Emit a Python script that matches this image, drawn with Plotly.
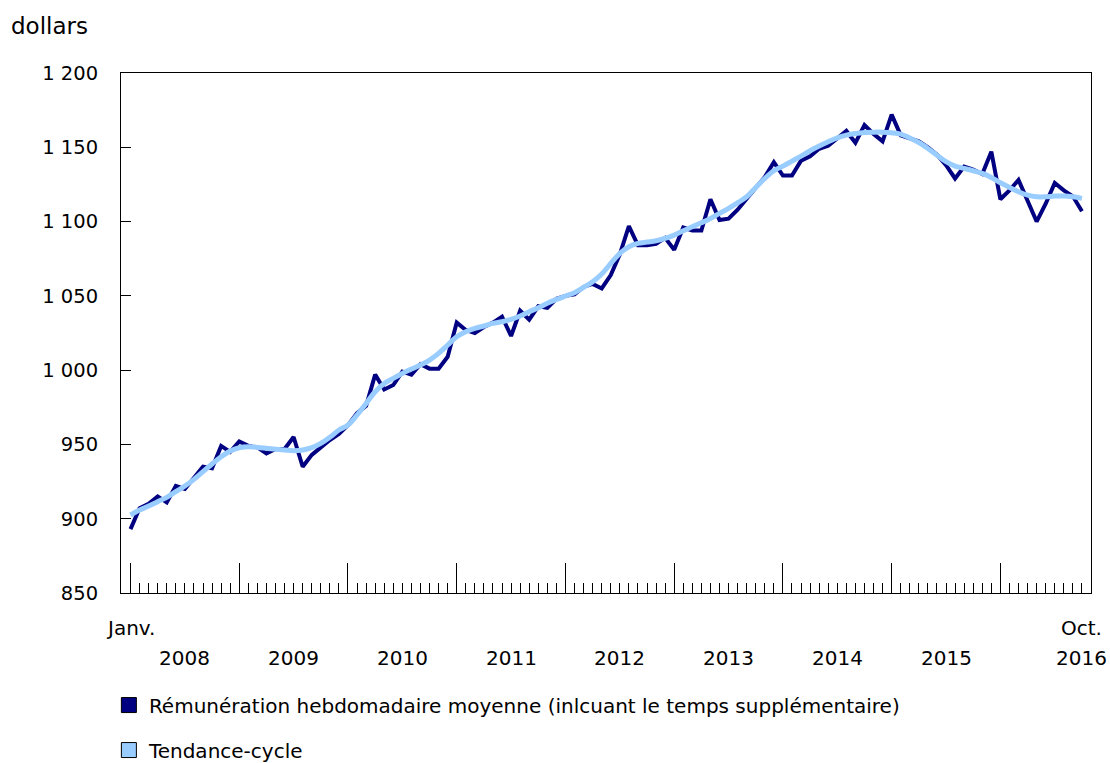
import plotly.graph_objects as go

# Monthly index 0 = Jan 2008 ... 105 = Oct 2016
months = list(range(106))

remuneration = [
    893, 907, 910, 915, 911, 922, 920, 927, 935, 934, 949, 945,
    952, 949, 948, 944, 947, 947, 955, 935, 943, 948, 953, 957,
    963, 971, 976, 997, 987, 990, 999, 997, 1004, 1001, 1001, 1009,
    1032, 1027, 1025, 1029, 1032, 1036, 1023, 1040, 1034, 1043, 1042, 1048,
    1050, 1051, 1056, 1058, 1055, 1064, 1078, 1097, 1084, 1084, 1085, 1089,
    1081, 1096, 1094, 1094, 1115, 1101, 1102, 1108, 1115, 1122, 1130, 1140,
    1131, 1131, 1141, 1144, 1149, 1151, 1156, 1161, 1153, 1165, 1159, 1154,
    1172, 1158, 1156, 1154, 1150, 1145, 1138, 1129, 1137, 1135, 1132, 1147,
    1115, 1121, 1128, 1114, 1100, 1112, 1126, 1121, 1117, 1107,
]

tendance = [
    902.5, 905.9, 908.5, 911.5, 914.4, 918.2, 922.0, 926.5, 931.7, 936.8, 941.7, 945.6,
    947.8, 948.5, 948.0, 947.4, 946.7, 946.2, 945.8, 946.2, 947.8, 950.7, 954.8, 959.7,
    963.0, 969.8, 977.6, 985.5, 991.0, 994.5, 997.8, 1000.7, 1003.4, 1006.8, 1011.3, 1016.9,
    1022.5, 1025.9, 1028.1, 1029.7, 1031.5, 1032.6, 1034.2, 1036.4, 1039.3, 1042.0, 1045.0, 1047.6,
    1049.9, 1052.1, 1055.7, 1059.5, 1064.7, 1071.8, 1078.6, 1083.1, 1085.3, 1086.2, 1087.1, 1088.7,
    1090.9, 1093.8, 1096.5, 1099.2, 1102.1, 1105.5, 1108.9, 1112.7, 1116.7, 1123.0, 1129.0, 1134.2,
    1137.3, 1140.7, 1144.0, 1147.7, 1150.8, 1153.7, 1156.4, 1158.2, 1159.3, 1160.0, 1160.2, 1160.2,
    1159.8, 1158.9, 1156.3, 1153.2, 1149.2, 1144.7, 1140.3, 1137.3, 1135.8, 1134.2, 1132.4, 1129.7,
    1126.1, 1123.0, 1120.1, 1117.8, 1116.7, 1116.7, 1117.2, 1117.2, 1116.7, 1115.6,
]

year_labels = ["2008", "2009", "2010", "2011", "2012", "2013", "2014", "2015"]
year_label_pos = [6, 18, 30, 42, 54, 66, 78, 90]
january_ticks = [0, 12, 24, 36, 48, 60, 72, 84, 96]

y_ticks = [850, 900, 950, 1000, 1050, 1100, 1150, 1200]
y_ticktext = ["850", "900", "950", "1 000", "1 050", "1 100", "1 150", "1 200"]

series_names = [
    "Rémunération hebdomadaire moyenne (inlcuant le temps supplémentaire)",
    "Tendance-cycle",
]
dark = "#000080"
light = "#99CCFF"
FONT = "DejaVu Sans"
FS = 20

fig = go.Figure()
fig.add_trace(go.Scatter(x=months, y=remuneration, mode="lines",
                         line=dict(color=dark, width=4), showlegend=False))
fig.add_trace(go.Scatter(x=months, y=tendance, mode="lines",
                         line=dict(color=light, width=5, shape="spline"), showlegend=False))
# legend entries (square swatches)
for name, col, grp in [(series_names[0], dark, "a"), (series_names[1], light, "b")]:
    fig.add_trace(go.Scatter(x=[None], y=[None], mode="markers", name=name,
                             legendgroup=grp,
                             marker=dict(symbol="square", size=15, color=col,
                                         line=dict(color="black", width=1))))

fig.update_xaxes(
    range=[-1.05, 106.0],
    tickvals=january_ticks, ticks="inside", ticklen=30, tickwidth=1, tickcolor="black",
    showticklabels=False, showgrid=False, zeroline=False,
    showline=True, linecolor="black", linewidth=1, mirror=True,
    minor=dict(dtick=1, tick0=0, ticks="inside", ticklen=10, tickwidth=1,
               tickcolor="black", showgrid=False),
)
fig.update_yaxes(
    range=[850, 1200], tickvals=y_ticks, ticktext=y_ticktext,
    ticks="inside", ticklen=10, tickwidth=1, tickcolor="black",
    ticklabelstandoff=18,
    showgrid=False, zeroline=False,
    showline=True, linecolor="black", linewidth=1, mirror=True,
    tickfont=dict(family=FONT, size=19.5, color="black"),
)

annotations = [
    dict(text="dollars", xref="paper", yref="paper", x=-0.1155, y=1.09,
         xanchor="left", yanchor="middle", showarrow=False,
         font=dict(family=FONT, size=23, color="black")),
    dict(text="Janv.", xref="x", yref="paper", x=0, y=-0.0673,
         xanchor="center", yanchor="middle", showarrow=False,
         font=dict(family=FONT, size=FS, color="black")),
    dict(text="Oct.", xref="x", yref="paper", x=105, y=-0.0673,
         xanchor="center", yanchor="middle", showarrow=False,
         font=dict(family=FONT, size=FS, color="black")),
    dict(text="2016", xref="x", yref="paper", x=105, y=-0.125,
         xanchor="center", yanchor="middle", showarrow=False,
         font=dict(family=FONT, size=FS, color="black")),
]
for lab, pos in zip(year_labels, year_label_pos):
    annotations.append(dict(text=lab, xref="x", yref="paper", x=pos, y=-0.125,
                            xanchor="center", yanchor="middle", showarrow=False,
                            font=dict(family=FONT, size=FS, color="black")))

fig.update_layout(
    width=1110, height=763,
    margin=dict(l=121, r=19, t=73, b=170, autoexpand=False),
    paper_bgcolor="white", plot_bgcolor="white",
    font=dict(family=FONT, size=FS, color="black"),
    annotations=annotations,
    showlegend=True,
    legend=dict(x=-0.0125, y=-0.178, xanchor="left", yanchor="top",
                orientation="v", tracegroupgap=16, traceorder="grouped",
                bgcolor="rgba(0,0,0,0)", borderwidth=0,
                font=dict(family=FONT, size=FS, color="black")),
)

# remove the default page margin so the figure fills the window exactly
fig.write_html(
    "out.html",
    config={"displayModeBar": False},
    post_script="document.body.style.margin='0px';document.body.style.overflow='hidden';",
)
